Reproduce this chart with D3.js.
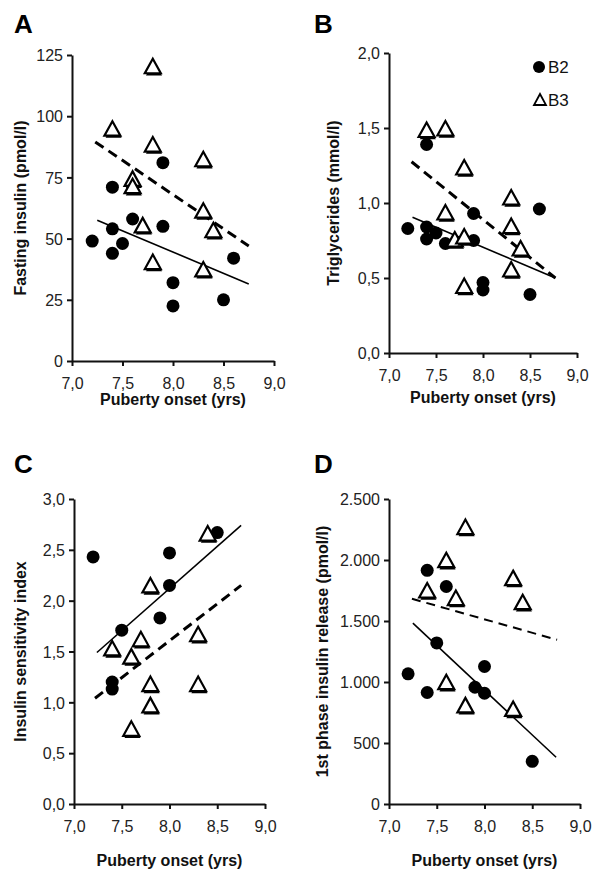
<!DOCTYPE html>
<html>
<head>
<meta charset="utf-8">
<script src="https://cdn.jsdelivr.net/npm/d3@7"></script>
<style>
  body { margin: 0; background: #fff; }
  svg { font-family: "Liberation Sans", Arial, sans-serif; }
  .tick text { fill: #222; font-size: 16px; }
  .domain, .tick line { stroke: #111; stroke-width: 2; }
</style>
</head>
<body>
<svg id="fig" width="599" height="871"></svg>
<script>
// onset ages (yrs) for each group, per panel
var xTicks = [7.0, 7.5, 8.0, 8.5, 9.0];

// A: fasting insulin (pmol/l)
var aB2x = [7.2, 7.4, 7.4, 7.4, 7.5, 7.6, 7.9, 7.9, 8.0, 8.0, 8.5, 8.6];
var aB2y = [49, 71, 54, 44, 48, 58, 81, 55, 32, 22.5, 25, 42];
var aB3x = [7.4, 7.6, 7.6, 7.7, 7.8, 7.8, 7.8, 8.3, 8.3, 8.3, 8.4];
var aB3y = [94.5, 74, 71, 55, 120, 88, 40, 82, 61, 37, 53];
var aFitB2 = [[7.25, 57.5], [8.75, 31.5]];
var aFitB3 = [[7.23, 89.5], [8.75, 47]];
var aTicks = [0, 25, 50, 75, 100, 125];

// B: triglycerides (mmol/l)
var bB2x = [7.2, 7.4, 7.4, 7.4, 7.5, 7.6, 7.9, 7.9, 8.0, 8.0, 8.5, 8.6];
var bB2y = [0.83, 1.39, 0.84, 0.76, 0.80, 0.73, 0.93, 0.75, 0.47, 0.42, 0.39, 0.96];
var bB3x = [7.4, 7.6, 7.6, 7.7, 7.8, 7.8, 7.8, 8.3, 8.3, 8.3, 8.4];
var bB3y = [1.48, 1.49, 0.93, 0.75, 1.23, 0.77, 0.44, 1.03, 0.84, 0.55, 0.69];
var bFitB2 = [[7.25, 0.905], [8.77, 0.50]];
var bFitB3 = [[7.24, 1.275], [8.77, 0.50]];
var bTicks = [0, 0.5, 1.0, 1.5, 2.0];

// C: insulin sensitivity index
var cB2x = [7.2, 7.4, 7.4, 7.5, 7.9, 8.0, 8.0, 8.5];
var cB2y = [2.43, 1.20, 1.13, 1.71, 1.83, 2.47, 2.15, 2.67];
var cB3x = [7.4, 7.6, 7.6, 7.7, 7.8, 7.8, 7.8, 8.3, 8.3, 8.4];
var cB3y = [1.52, 1.44, 0.73, 1.61, 2.14, 1.17, 0.96, 1.66, 1.17, 2.65];
var cFitB2 = [[7.24, 1.49], [8.75, 2.74]];
var cFitB3 = [[7.22, 1.04], [8.75, 2.15]];
var cTicks = [0, 0.5, 1.0, 1.5, 2.0, 2.5, 3.0];

// D: 1st phase insulin release (pmol/l)
var dB2x = [7.2, 7.4, 7.4, 7.5, 7.6, 7.9, 8.0, 8.0, 8.5];
var dB2y = [1067, 1915, 914, 1320, 1783, 957, 1127, 908, 350];
var dB3x = [7.4, 7.6, 7.6, 7.7, 7.8, 7.8, 8.3, 8.3, 8.4];
var dB3y = [1742, 1990, 990, 1680, 2262, 800, 1843, 771, 1646];
var dFitB2 = [[7.25, 1482], [8.75, 383]];
var dFitB3 = [[7.24, 1682], [8.76, 1346]];
var dTicks = [0, 500, 1000, 1500, 2000, 2500];

var svg = d3.select("#fig");

var comma1 = function(v) { return d3.format(".1f")(v).replace(".", ","); };
var dotThousands = function(v) { return d3.format(",")(v).replace(/,/g, "."); };
var plain = function(v) { return String(v); };

function triangle(g, x, y) {
  var p = "M0,-8.5L8,6L-8,6Z";
  g.append("path").attr("d", p)
    .attr("transform", "translate(" + (x + 1.2) + "," + (y + 2.2) + ")")
    .attr("fill", "#000");
  g.append("path").attr("d", p)
    .attr("transform", "translate(" + x + "," + y + ")")
    .attr("fill", "#fff").attr("stroke", "#000").attr("stroke-width", 2.2)
    .attr("stroke-linejoin", "miter");
}

function panel(o) {
  var g = svg.append("g");
  var x = d3.scaleLinear().domain([7, 9]).range(o.xr);
  var y = d3.scaleLinear().domain([0, o.ymax]).range(o.yr);

  g.append("g")
    .attr("transform", "translate(0," + o.yr[0] + ")")
    .call(d3.axisBottom(x).tickValues(xTicks).tickFormat(comma1).tickSize(5).tickSizeOuter(0).tickPadding(12));
  g.append("g")
    .attr("transform", "translate(" + o.xr[0] + ",0)")
    .call(d3.axisLeft(y).tickValues(o.ticks).tickFormat(o.fmt).tickSize(5).tickSizeOuter(0).tickPadding(4))
    .selectAll(".tick text").attr("dy", "0.36em");

  var line = d3.line().x(function(d) { return x(d[0]); }).y(function(d) { return y(d[1]); });
  g.append("path").attr("d", line(o.fit2))
    .attr("fill", "none").attr("stroke", "#000").attr("stroke-width", 1.6);
  g.append("path").attr("d", line(o.fit3))
    .attr("fill", "none").attr("stroke", "#000").attr("stroke-width", o.dashW)
    .attr("stroke-dasharray", o.dash);

  o.b2x.forEach(function(v, i) {
    g.append("circle").attr("cx", x(v)).attr("cy", y(o.b2y[i])).attr("r", 6.5).attr("fill", "#000");
  });
  o.b3x.forEach(function(v, i) {
    triangle(g, x(v), y(o.b3y[i]));
  });

  g.append("text").attr("x", o.letter[0]).attr("y", o.letter[1])
    .attr("font-size", 26).attr("font-weight", "bold").text(o.name);
  g.append("text").attr("x", (o.xr[0] + o.xr[1]) / 2).attr("y", o.titleY)
    .attr("text-anchor", "middle").attr("font-size", 16).attr("font-weight", "bold")
    .attr("fill", "#111").text("Puberty onset (yrs)");
  var cy = (o.yr[0] + o.yr[1]) / 2;
  g.append("text")
    .attr("transform", "translate(" + (o.ylx + 6) + "," + cy + ") rotate(-90)")
    .attr("text-anchor", "middle").attr("font-size", 16).attr("font-weight", "bold")
    .attr("fill", "#111").text(o.ytitle);
  return g;
}

panel({ name: "A", letter: [14, 33], xr: [72, 274], yr: [361, 55], ymax: 125, ticks: aTicks, fmt: plain,
  b2x: aB2x, b2y: aB2y, b3x: aB3x, b3y: aB3y, fit2: aFitB2, fit3: aFitB3, dashW: 3, dash: "10,6",
  titleY: 405, ylx: 20, ytitle: "Fasting insulin (pmol/l)" });

var gb = panel({ name: "B", letter: [314, 33], xr: [389, 577], yr: [353, 53], ymax: 2, ticks: bTicks, fmt: comma1,
  b2x: bB2x, b2y: bB2y, b3x: bB3x, b3y: bB3y, fit2: bFitB2, fit3: bFitB3, dashW: 3, dash: "10,6",
  titleY: 403, ylx: 333, ytitle: "Triglycerides (mmol/l)" });

panel({ name: "C", letter: [14, 473], xr: [74, 265], yr: [804, 499], ymax: 3, ticks: cTicks, fmt: comma1,
  b2x: cB2x, b2y: cB2y, b3x: cB3x, b3y: cB3y, fit2: cFitB2, fit3: cFitB3, dashW: 3, dash: "10,6",
  titleY: 866, ylx: 20, ytitle: "Insulin sensitivity index" });

panel({ name: "D", letter: [314, 473], xr: [389, 580], yr: [804, 499], ymax: 2500, ticks: dTicks, fmt: dotThousands,
  b2x: dB2x, b2y: dB2y, b3x: dB3x, b3y: dB3y, fit2: dFitB2, fit3: dFitB3, dashW: 2, dash: "9,6",
  titleY: 866, ylx: 322, ytitle: "1st phase insulin release (pmol/l)" });

// legend (panel B)
gb.append("circle").attr("cx", 539).attr("cy", 67).attr("r", 6).attr("fill", "#000");
gb.append("text").attr("x", 548).attr("y", 73).attr("font-size", 17).attr("fill", "#111").text("B2");
gb.append("path").attr("d", "M0,-6L6,5L-6,5Z").attr("transform", "translate(540,100)")
  .attr("fill", "#fff").attr("stroke", "#000").attr("stroke-width", 1.8);
gb.append("text").attr("x", 548).attr("y", 106).attr("font-size", 17).attr("fill", "#111").text("B3");
</script>
</body>
</html>
